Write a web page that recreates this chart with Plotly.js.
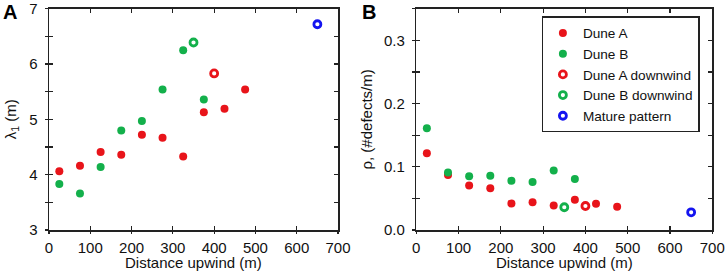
<!DOCTYPE html>
<html>
<head>
<meta charset="utf-8">
<script src="https://cdn.plot.ly/plotly-3.0.1.min.js"></script>
<style>html,body{margin:0;padding:0;background:#fff;}#chart{width:726px;height:273px;}</style>
</head>
<body>
<div id="chart"></div>
<script>
// ---- data ----
const duneA_x = [25, 75, 125, 175, 225, 275, 325, 375, 425, 475];
const duneA_lambda = [4.06, 4.16, 4.41, 4.36, 4.72, 4.67, 4.33, 5.13, 5.19, 5.54];
const duneA_rho = [0.1215, 0.087, 0.0705, 0.066, 0.042, 0.044, 0.0387, 0.048, 0.0414, 0.0366];

const duneB_x = [25, 75, 125, 175, 225, 275, 325, 375];
const duneB_lambda = [3.83, 3.66, 4.14, 4.80, 4.97, 5.54, 6.25, 5.36];
const duneB_rho = [0.161, 0.091, 0.085, 0.086, 0.078, 0.076, 0.094, 0.0806];

const duneAdown_x = [400];
const duneAdown_lambda = [5.83];
const duneAdown_rho = [0.038];

const duneBdown_x = [350];
const duneBdown_lambda = [6.39];
const duneBdown_rho = [0.036];

const mature_x = [650];
const mature_lambda = [6.72];
const mature_rho = [0.028];

const seriesNames = ["Dune A", "Dune B", "Dune A downwind", "Dune B downwind", "Mature pattern"];
const xTitle = "Distance upwind (m)";

const xTickVals = [0, 100, 200, 300, 400, 500, 600, 700];
const yA_tickVals = [3, 3.5, 4, 4.5, 5, 5.5, 6, 6.5, 7];
const yA_tickText = ["3", "", "4", "", "5", "", "6", "", "7"];
const yB_tickVals = [0, 0.05, 0.1, 0.15, 0.2, 0.25, 0.3, 0.35];
const yB_tickText = ["0.0", "", "0.1", "", "0.2", "", "0.3", ""];

// ---- styles ----
const RED = "#e8141a", GREEN = "#13b04b", BLUE = "#1414f0";
const FONT = "Liberation Sans, Arial, sans-serif";
const filled = c => ({color: c, size: 8, line: {width: 0}});
const ring = c => ({symbol: "circle-open", color: c, size: 7, line: {color: c, width: 2.8}});

function trace(x, y, name, marker, xa, ya, leg) {
  return {x: x, y: y, name: name, type: "scatter", mode: "markers", marker: marker,
          xaxis: xa, yaxis: ya, showlegend: leg, legendgroup: name, hoverinfo: "x+y"};
}

const data = [
  trace(duneA_x, duneA_lambda, seriesNames[0], filled(RED), "x", "y", false),
  trace(duneB_x, duneB_lambda, seriesNames[1], filled(GREEN), "x", "y", false),
  trace(duneAdown_x, duneAdown_lambda, seriesNames[2], ring(RED), "x", "y", false),
  trace(duneBdown_x, duneBdown_lambda, seriesNames[3], ring(GREEN), "x", "y", false),
  trace(mature_x, mature_lambda, seriesNames[4], ring(BLUE), "x", "y", false),
  trace(duneA_x, duneA_rho, seriesNames[0], filled(RED), "x2", "y2", true),
  trace(duneB_x, duneB_rho, seriesNames[1], filled(GREEN), "x2", "y2", true),
  trace(duneAdown_x, duneAdown_rho, seriesNames[2], ring(RED), "x2", "y2", true),
  trace(duneBdown_x, duneBdown_rho, seriesNames[3], ring(GREEN), "x2", "y2", true),
  trace(mature_x, mature_rho, seriesNames[4], ring(BLUE), "x2", "y2", true),
  // empty traces so the overlay tick axes exist
  {x: [], y: [], xaxis: "x3", yaxis: "y3", type: "scatter", mode: "markers", showlegend: false, hoverinfo: "skip"},
  {x: [], y: [], xaxis: "x4", yaxis: "y4", type: "scatter", mode: "markers", showlegend: false, hoverinfo: "skip"}
];

const LINE = "#222";
const tickFont = {family: FONT, size: 15, color: "#111"};
const titleFont = {family: FONT, size: 15, color: "#111"};

function xAxis(domain, anchor) {
  return {domain: domain, anchor: anchor, range: [0, 700], tickmode: "array", tickvals: xTickVals,
          ticks: "inside", ticklen: 4, tickwidth: 1.2, tickcolor: LINE, mirror: "ticks",
          showline: true, linewidth: 1.5, linecolor: LINE, showgrid: false, zeroline: false,
          tickfont: tickFont, ticklabelstandoff: 3, ticklabeloverflow: "allow", fixedrange: true};
}
function yAxis(range, vals, text, anchor, titleText, standoff) {
  return {domain: [0.1575, 0.968], anchor: anchor, range: range, tickmode: "array", tickvals: vals, ticktext: text,
          ticks: "inside", ticklen: 4, tickwidth: 1.2, tickcolor: LINE, mirror: "ticks",
          showline: true, linewidth: 1.5, linecolor: LINE, showgrid: false, zeroline: false,
          tickfont: tickFont, ticklabelstandoff: 7, ticklabeloverflow: "allow",
          title: {text: titleText, font: titleFont, standoff: standoff}, fixedrange: true};
}
function outTicksX(over, anchor) {
  return {overlaying: over, anchor: anchor, range: [0, 700], tickmode: "array", tickvals: xTickVals,
          ticks: "outside", ticklen: 3, tickwidth: 1.2, tickcolor: LINE, showticklabels: false,
          showline: false, showgrid: false, zeroline: false, fixedrange: true};
}
function outTicksY(over, anchor, range, vals) {
  return {overlaying: over, anchor: anchor, side: "left", range: range, tickmode: "array", tickvals: vals,
          ticks: "outside", ticklen: 3, tickwidth: 1.2, tickcolor: LINE, showticklabels: false,
          showline: false, showgrid: false, zeroline: false, fixedrange: true};
}
function xTitleAnn(ref) {
  return {text: xTitle, xref: ref + " domain", yref: "paper", x: 0.5, y: 0.038, xanchor: "center", yanchor: "middle",
          showarrow: false, font: titleFont};
}

const layout = {
  width: 726, height: 273,
  margin: {l: 0, r: 0, t: 0, b: 0},
  paper_bgcolor: "#fff", plot_bgcolor: "#fff",
  font: {family: FONT, color: "#111"},
  showlegend: true,
  xaxis: xAxis([0.0675, 0.4656], "y"),
  yaxis: yAxis([3, 7], yA_tickVals, yA_tickText, "x", "λ<sub>1</sub> (m)", 9),
  xaxis2: xAxis([0.5734, 0.9811], "y2"),
  yaxis2: yAxis([0, 0.35], yB_tickVals, yB_tickText, "x2", "ρ, (#defects/m)", 7),
  xaxis3: outTicksX("x", "y"),
  yaxis3: outTicksY("y", "x", [3, 7], yA_tickVals),
  xaxis4: outTicksX("x2", "y2"),
  yaxis4: outTicksY("y2", "x2", [0, 0.35], yB_tickVals),
  legend: {x: 0.746, y: 0.94, xanchor: "left", yanchor: "top", bgcolor: "#fff",
           bordercolor: LINE, borderwidth: 1.3, font: {family: FONT, size: 13.6, color: "#111"},
           itemwidth: 30, tracegroupgap: 0},
  annotations: [
    xTitleAnn("x"), xTitleAnn("x2"),
    {text: "<b>A</b>", xref: "paper", yref: "paper", x: 0.002, y: 1.005, xanchor: "left", yanchor: "top",
     showarrow: false, font: {family: FONT, size: 20, color: "#000"}},
    {text: "<b>B</b>", xref: "paper", yref: "paper", x: 0.496, y: 1.005, xanchor: "left", yanchor: "top",
     showarrow: false, font: {family: FONT, size: 20, color: "#000"}}
  ]
};

Plotly.newPlot("chart", data, layout, {staticPlot: true, displayModeBar: false});
</script>
</body>
</html>
